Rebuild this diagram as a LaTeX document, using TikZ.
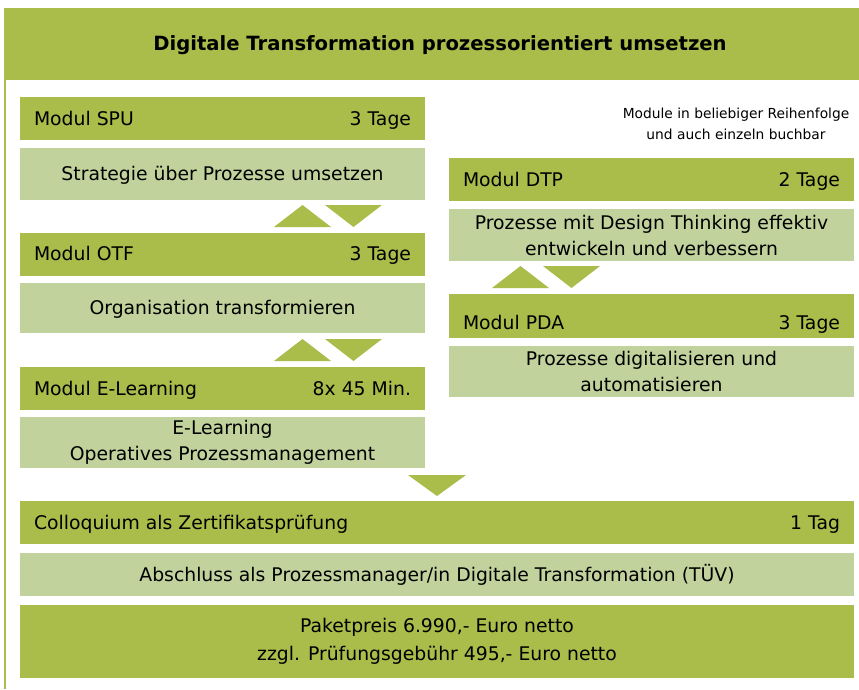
\documentclass[tikz,border=0pt]{standalone}
\usepackage{fontspec}
\setmainfont{DejaVu Sans}
\definecolor{dkgreen}{RGB}{170,188,74}
\definecolor{ltgreen}{RGB}{193,210,156}
\newcommand\modrow[3][377pt]{\makebox[#1]{#2\hfill #3}}

\begin{document}
\begin{tikzpicture}[x=1pt,y=-1pt,
  every node/.style={inner sep=0pt,font=\fontsize{18.8}{26}\selectfont},
  oneline/.style={text height=13.7pt,text depth=0pt},
  modbox/.style={fill=dkgreen,minimum width=405,minimum height=43,oneline},
  descbox/.style={fill=ltgreen,minimum width=405,minimum height=52,align=center}]
  \useasboundingbox (0,0) rectangle (859,690);
  % frame
  \fill [dkgreen] (4,8) rectangle (859,80);
  \fill [dkgreen] (4,80) rectangle (6,689);
  \node [font=\bfseries\fontsize{19.6}{24}\selectfont,oneline] (title) at (440,44) {Digitale Transformation prozessorientiert umsetzen};
  \node [font=\fontsize{13.8}{21}\selectfont,align=center] (hint) at (736,123.5) {Module in beliebiger Reihenfolge\\und auch einzeln buchbar};
  % left column
  \node [modbox] (spu) at (222.5,118.5) {\modrow{Modul SPU}{3 Tage}};
  \node [descbox,oneline] (spuText) at (222.5,174) {Strategie über Prozesse umsetzen};
  \node [modbox] (otf) at (222.5,254) {\modrow{Modul OTF}{3 Tage}};
  \node [descbox,oneline,minimum height=50] (otfText) at (222.5,308) {Organisation transformieren};
  \node [modbox] (eln) at (222.5,388.5) {\modrow{Modul E-Learning}{8x 45 Min.}};
  \node [descbox,minimum height=51] (elnText) at (222.5,442.5) {E-Learning\\Operatives Prozessmanagement};
  % right column
  \node [modbox] (dtp) at (651.5,179.5) {\modrow{Modul DTP}{2 Tage}};
  \node [descbox] (dtpText) at (651.5,235) {Prozesse mit Design Thinking effektiv\\entwickeln und verbessern};
  \node [modbox,minimum height=44,text height=27.7pt] (pda) at (651.5,316) {\modrow{Modul PDA}{3 Tage}};
  \node [descbox,minimum height=51] (pdaText) at (651.5,371.5) {Prozesse digitalisieren und\\automatisieren};
  % bottom
  \node [modbox,minimum width=834] (coll) at (437,522.5) {\modrow[806pt]{Colloquium als Zertifikatsprüfung}{1 Tag}};
  \node [descbox,oneline,minimum width=834,minimum height=43] (cert) at (437,574.5) {Abschluss als Prozessmanager/in Digitale Transformation (TÜV)};
  \node [fill=dkgreen,minimum width=834,minimum height=73,align=center,font=\fontsize{18.8}{28}\selectfont] (price) at (437,641.5) {Paketpreis 6.990,- Euro netto\\zzgl. Prüfungsgebühr 495,- Euro netto};
  % up/down arrows
  \foreach \x/\y in {274/205, 274/339, 492/266} {
    \fill [dkgreen] (\x,\y+22) -- (\x+28.5,\y) -- (\x+57,\y+22) -- cycle;
    \fill [dkgreen] (\x+51,\y) -- (\x+108,\y) -- (\x+79.5,\y+22) -- cycle;
  }
  \fill [dkgreen] (408,475) -- (466,475) -- (437,496) -- cycle;
\end{tikzpicture}
\end{document}
